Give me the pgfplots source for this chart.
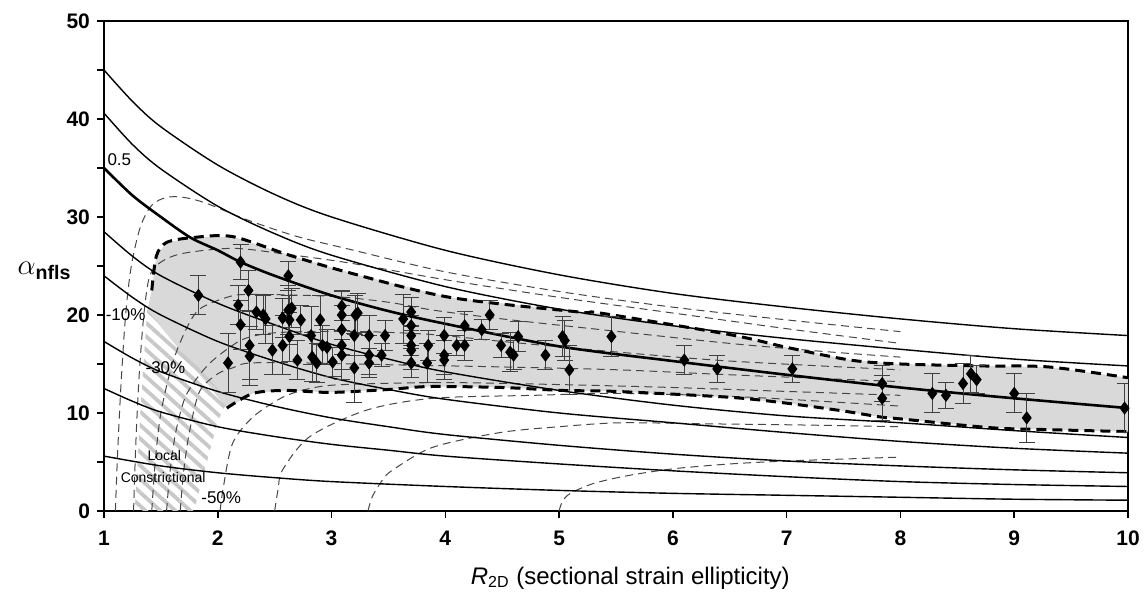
\documentclass[border=0pt]{standalone}
\usepackage{fontspec}
\setmainfont{Liberation Sans}
\usepackage{pgfplots}
\pgfplotsset{compat=1.18}
\usepackage{pgfplotstable}
\usetikzlibrary{calc,patterns.meta}

\definecolor{shade}{RGB}{217,217,217}
\definecolor{hatchc}{RGB}{200,200,200}
\definecolor{dashc}{RGB}{70,70,70}

% measured points: R, alpha, error
\pgfplotstableread{
x y e
1.83 22.0 2.0
2.09 15.1 3.0
2.18 21.0 2.0
2.20 25.4 1.8
2.20 19.0 2.5
2.27 22.5 2.0
2.28 16.9 3.5
2.28 15.8 3.0
2.34 20.3 1.8
2.40 20.0 2.0
2.42 19.6 2.5
2.48 16.4 2.5
2.57 19.7 2.0
2.57 16.9 3.0
2.62 24.0 1.5
2.62 20.5 2.5
2.65 20.7 2.0
2.63 19.5 2.5
2.63 17.8 2.5
2.70 15.4 2.0
2.73 19.5 1.5
2.82 17.9 3.0
2.83 15.7 2.5
2.87 15.1 2.0
2.90 19.5 2.5
2.92 16.9 2.0
2.96 16.7 1.8
3.01 15.2 1.5
3.09 20.9 1.5
3.09 20.0 2.5
3.09 18.5 2.5
3.09 16.9 2.5
3.09 15.9 2.5
3.21 20.0 2.0
3.23 20.2 2.0
3.20 17.9 2.0
3.20 14.6 3.5
3.33 17.9 2.0
3.33 15.9 2.0
3.33 15.1 1.5
3.44 15.9 1.2
3.47 17.9 1.5
3.63 19.6 2.5
3.70 20.3 1.5
3.70 18.9 2.0
3.70 17.9 2.0
3.70 16.9 2.0
3.70 16.4 2.0
3.70 15.1 1.5
3.85 16.9 1.5
3.84 15.1 2.0
3.99 17.9 1.8
3.99 15.9 2.0
3.99 15.4 2.0
4.10 16.9 1.0
4.17 18.9 1.5
4.17 16.9 1.5
4.32 18.5 1.0
4.39 20.0 1.5
4.49 16.9 1.2
4.57 16.2 2.0
4.60 15.9 1.5
4.64 17.8 1.5
4.88 15.9 1.5
5.03 17.8 2.0
5.05 17.4 2.0
5.09 14.4 2.5
5.46 17.8 2.0
6.10 15.4 1.5
6.39 14.5 1.4
7.05 14.5 1.4
7.84 13.0 1.8
7.84 11.5 2.3
8.28 12.0 2.0
8.40 11.8 1.3
8.55 13.0 2.0
8.62 14.0 1.9
8.67 13.4 1.4
9.00 12.0 2.0
9.11 9.5 2.5
9.97 10.5 2.5
}\pts

\begin{document}
\begin{tikzpicture}
\begin{axis}[
  scale only axis,
  width=512pt, height=245pt,
  xmin=1, xmax=10, ymin=0, ymax=50,
  xtick={1,...,10}, ytick={0,10,...,50},
  minor ytick={5,15,25,35,45},
  tick align=outside, tick pos=left,
  major tick length=3.5pt, minor tick length=3.5pt,
  axis line style={line width=0.9pt},
  tick style={black, line width=0.8pt},
  ticklabel style={font=\bfseries\fontsize{10.5}{12}\selectfont},
  xticklabel style={yshift=-3pt},
  /pgf/number format/assume math mode=true,
  xlabel={\textit{R}\textsubscript{2D} (sectional strain ellipticity)},
  xlabel style={font=\fontsize{12}{14}\selectfont, at={(axis description cs:0.514,-0.137)}, anchor=center},
  ylabel={$\alpha$\textsubscript{\textbf{nfls}}},
  ylabel style={font=\fontsize{14}{16}\selectfont, rotate=-90, at={(axis description cs:-0.058,0.49)}, anchor=center},
]
\coordinate (bl) at (rel axis cs:0,0);
\coordinate (tr) at (rel axis cs:1,1);

% shaded field of the data
\addplot[draw=none, fill=shade] coordinates {
  (1.42,22.5) (1.46,26.0) (1.55,27.4) (1.78,27.9) (2.13,28.0) (2.63,26.1)
  (3.16,24.3) (4.04,21.8) (5.18,20.3) (5.36,20.2) (6.5,18.0) (7.0,16.7)
  (7.56,15.4) (8.0,15.0) (8.72,14.8) (9.3,14.7) (10,13.6)
  (10,8.1) (9.3,8.3) (8.79,8.5) (8.0,9.4) (7.82,9.6) (7.5,10.2) (7.0,11.0)
  (6.5,11.6) (5.5,12.2) (5.03,12.3) (4.5,12.6) (3.86,12.7) (3.5,12.4)
  (2.99,12.1) (2.6,12.3) (2.31,12.0) (2.08,10.5) (1.38,20.5)
} -- cycle;

% local constrictional field
\addplot[draw=none, pattern={Lines[angle=-42,distance=5pt,line width=1.9pt]}, pattern color=hatchc]
  coordinates {(1.27,0) (1.33,12) (1.38,20.5) (2.09,11.3) (2.0,9.2) (1.79,0)} -- cycle;

% thin dashed curves
\pgfplotsset{dsh/.style={dashc, line width=0.5pt, dash pattern=on 4pt off 2.6pt, smooth, tension=0.5}}
\addplot[dsh] coordinates {(1.10,0) (1.12,6) (1.15,13) (1.19,20) (1.24,25) (1.32,29) (1.42,31.2) (1.55,32.0) (1.7,32.0) (1.9,31.4) (2.26,29.7) (2.7,28.0) (3.16,26.7) (4,24.4) (5,22.4) (6,20.8) (7,19.5) (8,18.3)};
\addplot[dsh] coordinates {(1.26,0) (1.28,7) (1.31,14) (1.35,20) (1.40,23.9) (1.5,25.4) (1.7,26.3) (2.14,26.8) (2.6,26.2) (3.16,25.3) (4,23.6) (5,21.8) (6,20.2) (7,18.6) (8,17.1)};
\addplot[dsh] coordinates {(1.42,0) (1.45,5) (1.5,10) (1.6,15) (1.72,18.5) (1.84,20.6) (2.08,21.8) (2.28,22.1) (3.0,21.9) (3.5,21.3) (3.89,20.5) (4.5,19.6) (5.53,18.3) (6.5,17.1) (7.3,16.3) (8,15.7)};
\addplot[dsh] coordinates {(1.55,0) (1.58,4) (1.63,8) (1.71,11.5) (1.82,13.6) (1.96,15.4) (2.2,17.4) (2.43,18.1) (2.76,18.3) (3.3,18.3) (3.89,18.0) (4.5,17.3) (5.53,16.2) (6.5,15.3) (8,14.4)};
\addplot[dsh] coordinates {(1.67,0) (1.7,4) (1.75,8) (1.84,12.2) (2.0,14.0) (2.13,14.6) (2.28,15.1) (2.8,15.1) (3.6,14.9) (4.5,14.7) (5.53,14.4) (6.5,13.9) (8,13.2)};
\addplot[dsh] coordinates {(2.02,0) (2.05,2.5) (2.13,6.9) (2.31,9.6) (2.57,11.6) (2.81,12.5) (3.1,12.9) (4,13.1) (5,12.9) (6,12.6) (7,12.2) (8,11.8)};
\addplot[dsh] coordinates {(2.5,0) (2.53,2.2) (2.57,4.2) (2.81,7.6) (3.31,10.3) (3.89,11.5) (4.77,11.8) (5.53,12.0) (6.5,11.7) (7.3,11.2) (8,10.7)};
\addplot[dsh] coordinates {(3.32,0) (3.36,1.5) (3.45,3.2) (3.54,4.2) (3.89,6.5) (4.48,8.0) (5.0,8.6) (5.53,9.0) (6.24,8.9) (7,8.8) (8,8.6)};
\addplot[dsh] coordinates {(5.0,0) (5.03,1) (5.1,1.8) (5.3,2.8) (5.6,3.6) (6,4.3) (6.5,4.8) (7,5.1) (7.5,5.3) (8,5.5)};

% solid curves
\pgfplotsset{sld/.style={black, line width=0.7pt, smooth}}
\addplot[sld] coordinates {(1,45) (1.25,41.8) (1.5,39.2) (2,35.3) (2.5,32.3) (3,30) (4,26.6) (5,24.1) (6,22.2) (7,20.8) (8,19.6) (9,18.6) (10,17.9)};
\addplot[sld] coordinates {(1,40.6) (1.25,37.4) (1.5,34.9) (2,31.1) (2.5,28.3) (3,26.1) (4,22.9) (5,20.6) (6,18.9) (7,17.6) (8,16.5) (9,15.5) (10,14.8)};
\addplot[black, line width=1.3pt, smooth] coordinates {(1,35) (1.25,32.2) (1.5,30.0) (1.76,27.9) (2,26.6) (2.2,25.4) (2.5,24.0) (3,22.0) (3.5,20.4) (4,19.1) (5,16.8) (6,15.3) (7,13.9) (8,12.6) (9,11.5) (10,10.5)};
\addplot[sld] coordinates {(1,28.5) (1.25,26.0) (1.5,24.0) (2,21.2) (2.5,19.0) (3,17.0) (3.5,15.5) (4,14.2) (5,12.3) (6,10.8) (7,9.7) (8,9.0) (9,8.2) (10,7.5)};
\addplot[sld] coordinates {(1,24) (1.25,21.8) (1.5,20.0) (2,17.3) (2.5,15.3) (3,13.6) (3.5,12.4) (4,11.4) (5,10.0) (6,9.0) (7,8.0) (8,7.1) (9,6.4) (10,5.9)};
\addplot[sld] coordinates {(1,17.3) (1.25,15.6) (1.5,14.2) (2,12.2) (2.5,10.7) (3,9.5) (3.5,8.6) (4,7.8) (5,6.7) (6,5.8) (7,5.1) (8,4.6) (9,4.2) (10,3.9)};
\addplot[sld] coordinates {(1,12.5) (1.25,11.2) (1.5,10.1) (2,8.6) (2.5,7.6) (3,6.8) (3.5,6.2) (4,5.6) (5,4.8) (6,4.1) (7,3.5) (8,3.0) (9,2.7) (10,2.5)};
\addplot[sld] coordinates {(1,5.6) (1.5,4.6) (2,3.9) (2.5,3.4) (3,3.0) (4,2.5) (5,2.1) (6,1.8) (7,1.6) (8,1.4) (9,1.2) (10,1.1)};

% outline of the shaded field
\pgfplotsset{thk/.style={black, line width=1.5pt, dash pattern=on 5pt off 3pt, smooth, tension=0.5}}
\addplot[thk] coordinates {(1.42,22.5) (1.46,26.0) (1.55,27.4) (1.78,27.9) (2.13,28.0) (2.63,26.1) (3.16,24.3) (4.04,21.8) (5.18,20.3) (5.36,20.2) (6.5,18.0) (7.0,16.7) (7.56,15.4) (8.0,15.0) (8.72,14.8) (9.3,14.7) (10,13.6)};
\addplot[thk] coordinates {(2.08,10.5) (2.31,12.0) (2.6,12.3) (2.99,12.1) (3.5,12.4) (3.86,12.7) (4.5,12.6) (5.03,12.3) (5.5,12.2) (6.5,11.6) (7.0,11.0) (7.5,10.2) (7.82,9.6) (8.0,9.4) (8.79,8.5) (9.3,8.3) (10,8.1)};

% data with error bars
\addplot[only marks, mark=diamond*, mark size=3pt, black,
  error bars/.cd, y dir=both, y explicit,
  error bar style={line width=0.5pt, black!75},
  error mark options={rotate=90, mark size=4pt, line width=0.5pt, black!75}]
  table[x=x, y=y, y error=e] {\pts};

% labels
\node[anchor=south west, inner sep=1pt, font=\fontsize{8.5}{10}\selectfont] at (axis cs:1.01,35.0) {0.5};
\node[font=\fontsize{8.5}{10}\selectfont] at (axis cs:1.19,20.0) {-10\%};
\node[font=\fontsize{8.5}{10}\selectfont] at (axis cs:1.54,14.6) {-30\%};
\node[font=\fontsize{8.5}{10}\selectfont] at (axis cs:2.03,1.4) {-50\%};
\node[font=\fontsize{7}{8}\selectfont] at (axis cs:1.53,5.7) {Local};
\node[font=\fontsize{7}{8}\selectfont] at (axis cs:1.52,3.4) {Constrictional};
\end{axis}
\pgfresetboundingbox
\path[use as bounding box] ($(bl)+(-52pt,-42pt)$) rectangle ($(tr)+(9.5pt,10.5pt)$);
\end{tikzpicture}
\end{document}
